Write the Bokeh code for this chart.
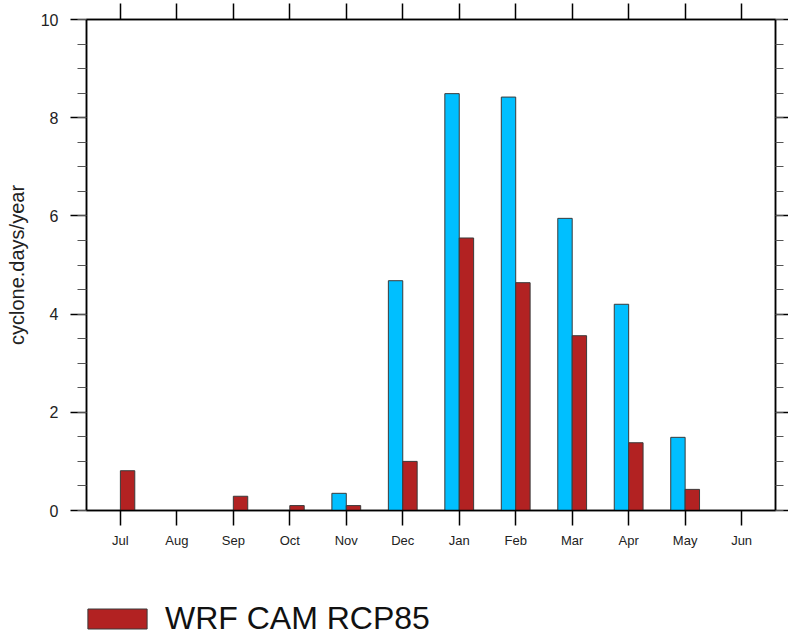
from bokeh.plotting import figure
from bokeh.layouts import column
from bokeh.models import (ColumnDataSource, FixedTicker, LinearAxis, Range1d,
                          Legend, LegendItem, CustomJSTickFormatter)
from bokeh.transform import dodge
from bokeh.embed import file_html
from bokeh.resources import INLINE

# ---- data ----
months = ["Jul", "Aug", "Sep", "Oct", "Nov", "Dec",
          "Jan", "Feb", "Mar", "Apr", "May", "Jun"]
wrf_cam_hist = [0, 0, 0, 0, 0.35, 4.68, 8.49, 8.42, 5.95, 4.2, 1.49, 0]
wrf_cam_rcp85 = [0.81, 0, 0.29, 0.1, 0.1, 1.0, 5.55, 4.64, 3.56, 1.38, 0.43, 0]
y_ticks = [0, 2, 4, 6, 8, 10]
y_minor = [0.5 * i for i in range(21)]
y_label = "cyclone.days/year"
legend_label = "WRF CAM RCP85"

FONT = "Liberation Sans"
BLUE = "#00BFFF"
RED = "#B22222"

idx = list(range(len(months)))
src = ColumnDataSource(dict(x=idx, hist=wrf_cam_hist, rcp=wrf_cam_rcp85))

p = figure(width=788, height=575, output_backend="svg", toolbar_location=None,
           x_range=Range1d(-0.6, 11.6), y_range=Range1d(0, 10),
           min_border_left=86, min_border_right=13,
           min_border_top=19, min_border_bottom=65,
           x_axis_location="below", y_axis_location="left")
p.xgrid.visible = False
p.ygrid.visible = False
p.outline_line_color = "black"
p.outline_line_width = 1.5
p.background_fill_color = "white"
p.border_fill_color = "white"

bw = 0.255
r_hist = p.vbar(x=dodge("x", -bw / 2, range=p.x_range), top="hist", width=bw,
                bottom=0, source=src, fill_color=BLUE,
                line_color="#3a3a3a", line_width=1)
r_rcp = p.vbar(x=dodge("x", bw / 2, range=p.x_range), top="rcp", width=bw,
               bottom=0, source=src, fill_color=RED,
               line_color="#3a3a3a", line_width=1)

xt = FixedTicker(ticks=idx)
yt = FixedTicker(ticks=y_ticks, minor_ticks=y_minor)
blank = CustomJSTickFormatter(code="return ''")

# bottom axis
xa = p.xaxis[0]
xa.ticker = xt
xa.major_label_overrides = {i: m for i, m in enumerate(months)}
xa.major_tick_in = 0
xa.major_tick_out = 15
xa.minor_tick_out = 0
xa.minor_tick_in = 0
xa.major_label_standoff = 7
xa.major_label_text_font = FONT
xa.major_label_text_font_size = "13px"
xa.major_label_text_color = "#222222"
xa.axis_line_width = 1.5
xa.major_tick_line_width = 1.5

# left axis
ya = p.yaxis[0]
ya.ticker = yt
ya.major_tick_in = 0
ya.major_tick_out = 16
ya.minor_tick_in = 0
ya.minor_tick_out = 9
ya.minor_tick_line_color = "#555555"
ya.major_label_standoff = 12
ya.major_label_text_font = FONT
ya.major_label_text_font_size = "16px"
ya.major_label_text_color = "#222222"
ya.axis_label = y_label
ya.axis_label_text_font = FONT
ya.axis_label_text_font_size = "20px"
ya.axis_label_text_font_style = "normal"
ya.axis_label_text_color = "#222222"
ya.axis_label_standoff = 10
ya.axis_line_width = 1.5
ya.major_tick_line_width = 1.5

# top axis (ticks only)
ta = LinearAxis(ticker=xt, formatter=blank, major_tick_in=0, major_tick_out=16,
                minor_tick_in=0, minor_tick_out=0, major_label_standoff=0,
                axis_line_width=1.5, major_tick_line_width=1.5)
p.add_layout(ta, "above")

# right axis (ticks only)
ra = LinearAxis(ticker=yt, formatter=blank, major_tick_in=0, major_tick_out=13,
                minor_tick_in=0, minor_tick_out=8,
                minor_tick_line_color="#555555", major_label_standoff=0,
                axis_line_width=1.5, major_tick_line_width=1.5)
p.add_layout(ra, "right")

# legend strip below the chart (its frame is aligned with the main frame)
pl = figure(width=788, height=60, output_backend="svg", toolbar_location=None,
            x_range=Range1d(-0.6, 11.6), y_range=Range1d(100, 101),
            min_border_left=0, min_border_right=0,
            min_border_top=0, min_border_bottom=0,
            x_axis_location=None, y_axis_location=None)
pl.xgrid.visible = False
pl.ygrid.visible = False
pl.outline_line_color = None
leg_r = pl.vbar(x="x", top="rcp", width=bw, bottom=0, source=src,
                fill_color=RED, line_color="#3a3a3a", line_width=1)

legend = Legend(items=[LegendItem(label=legend_label, renderers=[leg_r])],
                location=(-6, -2), orientation="vertical",
                glyph_width=74, glyph_height=25, label_height=25,
                label_standoff=11, label_text_font=FONT,
                label_text_font_size="32px", label_text_color="#111111",
                padding=0, margin=0, spacing=0,
                border_line_alpha=0, background_fill_alpha=0)
pl.add_layout(legend)

layout = column(p, pl, spacing=0)
open("out.html", "w").write(file_html(layout, INLINE))
